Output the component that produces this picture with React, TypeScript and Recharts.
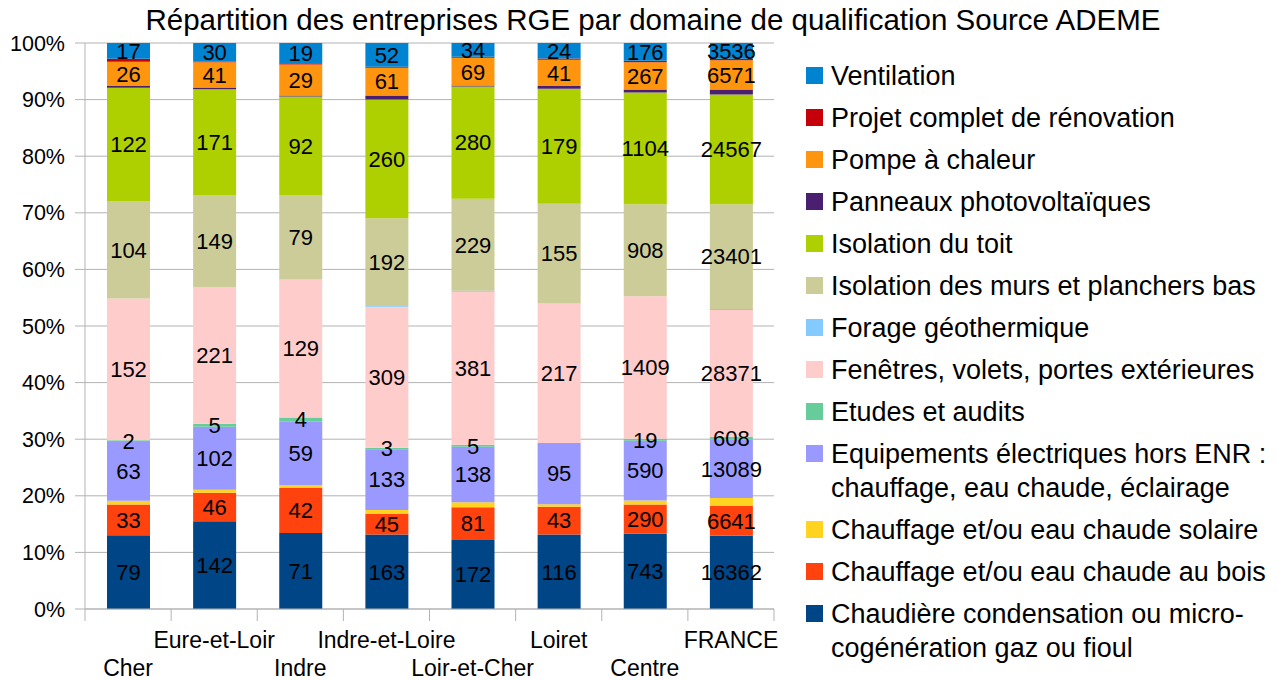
import React from 'react'
import { BarChart, Bar, XAxis, YAxis, CartesianGrid, LabelList } from 'recharts'

const categories = ['Cher', 'Eure-et-Loir', 'Indre', 'Indre-et-Loire', 'Loir-et-Cher', 'Loiret', 'Centre', 'FRANCE']

// series, bottom of the stack first
const chaudiere = [79, 142, 71, 163, 172, 116, 743, 16362]
const bois = [33, 46, 42, 45, 81, 43, 290, 6641]
const solaire = [4, 5, 3, 9, 13, 4, 38, 1800]
const equipements = [63, 102, 59, 133, 138, 95, 590, 13089]
const etudes = [2, 5, 4, 3, 5, 0, 19, 608]
const fenetres = [152, 221, 129, 309, 381, 217, 1409, 28371]
const forage = [0, 0, 0, 2, 2, 0, 0, 200]
const murs = [104, 149, 79, 192, 229, 155, 908, 23401]
const toit = [122, 171, 92, 260, 280, 179, 1104, 24567]
const panneaux = [2, 3, 1, 9, 2, 4, 30, 1100]
const pompe = [26, 41, 29, 61, 69, 41, 267, 6571]
const projet = [3, 1, 1, 2, 3, 2, 15, 300]
const ventilation = [17, 30, 19, 52, 34, 24, 176, 3536]

const yTicks = [0, 0.1, 0.2, 0.3, 0.4, 0.5, 0.6, 0.7, 0.8, 0.9, 1]

const series = [
    { key: 'chaudiere', values: chaudiere, color: '#004586', label: true, name: ['Chaudière condensation ou micro-', 'cogénération gaz ou fioul'] },
    { key: 'bois', values: bois, color: '#ff420e', label: true, name: ['Chauffage et/ou eau chaude au bois'] },
    { key: 'solaire', values: solaire, color: '#ffd320', label: false, name: ['Chauffage et/ou eau chaude solaire'] },
    { key: 'equipements', values: equipements, color: '#9999ff', label: true, name: ['Equipements électriques hors ENR :', 'chauffage, eau chaude, éclairage'] },
    { key: 'etudes', values: etudes, color: '#66cc99', label: true, name: ['Etudes et audits'] },
    { key: 'fenetres', values: fenetres, color: '#ffcccc', label: true, name: ['Fenêtres, volets, portes extérieures'] },
    { key: 'forage', values: forage, color: '#83caff', label: false, name: ['Forage géothermique'] },
    { key: 'murs', values: murs, color: '#cccc99', label: true, name: ['Isolation des murs et planchers bas'] },
    { key: 'toit', values: toit, color: '#aecf00', label: true, name: ['Isolation du toit'] },
    { key: 'panneaux', values: panneaux, color: '#4b1f6f', label: false, name: ['Panneaux photovoltaïques'] },
    { key: 'pompe', values: pompe, color: '#ff950e', label: true, name: ['Pompe à chaleur'] },
    { key: 'projet', values: projet, color: '#c5000b', label: false, name: ['Projet complet de rénovation'] },
    { key: 'ventilation', values: ventilation, color: '#0084d1', label: true, name: ['Ventilation'] },
]

const data = categories.map((name, i) => {
    const row: Record<string, string | number> = { name }
    series.forEach(s => { row[s.key] = s.values[i] })
    return row
})

const FONT = '"Liberation Sans", Arial, sans-serif'
const GRID = '#b3b3b3'
const PLOT_LEFT = 85
const PLOT_RIGHT = 774
const BAND = (PLOT_RIGHT - PLOT_LEFT) / categories.length

const CategoryTick = (props: any) => {
    const { x, y, payload, index } = props
    const lower = index % 2 === 0
    return (
        <g>
            <line x1={x - BAND / 2} y1={y} x2={x - BAND / 2} y2={y + 12} stroke={GRID} />
            {index === categories.length - 1 && (
                <line x1={x + BAND / 2} y1={y} x2={x + BAND / 2} y2={y + 12} stroke={GRID} />
            )}
            <text x={x} y={y + (lower ? 67 : 39)} textAnchor="middle" fontSize={23} fill="#000" fontFamily={FONT}>
                {payload.value}
            </text>
        </g>
    )
}

export default function App() {
    return (
        <div style={{ position: 'absolute', left: 0, top: 0, width: 1283, height: 680, background: '#fff', fontFamily: FONT }}>
            <div style={{ position: 'absolute', left: 0, top: 3, width: 1306, textAlign: 'center', fontSize: 29.5, color: '#000', whiteSpace: 'nowrap' }}>
                Répartition des entreprises RGE par domaine de qualification Source ADEME
            </div>
            <BarChart
                width={1283}
                height={680}
                data={data}
                stackOffset="expand"
                margin={{ top: 43, right: 1283 - PLOT_RIGHT, bottom: 0, left: 0 }}
                style={{ fontFamily: FONT }}
            >
                <CartesianGrid vertical={false} stroke={GRID} />
                <XAxis
                    dataKey="name"
                    height={71}
                    tickLine={false}
                    tickSize={0}
                    tickMargin={0}
                    axisLine={{ stroke: GRID }}
                    interval={0}
                    tick={<CategoryTick />}
                />
                <YAxis
                    width={PLOT_LEFT}
                    domain={[0, 1]}
                    ticks={yTicks}
                    tickFormatter={(v: number) => `${Math.round(v * 100)}%`}
                    tick={{ fontSize: 21.5, fill: '#000' }}
                    tickLine={{ stroke: GRID }}
                    tickSize={10}
                    tickMargin={10}
                    axisLine={{ stroke: GRID }}
                />
                <YAxis yAxisId="border" orientation="right" width={0} tick={false} tickLine={false} axisLine={{ stroke: GRID }} />
                {series.map(s => (
                    <Bar key={s.key} dataKey={s.key} stackId="a" fill={s.color} barSize={43} isAnimationActive={false}>
                        {s.label && (
                            <LabelList dataKey={s.key} position="center" fill="#000" fontSize={22} fontFamily={FONT} />
                        )}
                    </Bar>
                ))}
            </BarChart>
            <div style={{ position: 'absolute', left: 806, top: 59, fontSize: 27, color: '#000', lineHeight: '34px' }}>
                {[...series].reverse().map(s => (
                    <div key={s.key} style={{ display: 'flex', alignItems: 'flex-start', marginBottom: 8 }}>
                        <div style={{ width: 17, height: 17, background: s.color, marginTop: 8, marginRight: 8, flex: 'none' }} />
                        <div style={{ whiteSpace: 'nowrap' }}>
                            {s.name.map((line, i) => <div key={i}>{line}</div>)}
                        </div>
                    </div>
                ))}
            </div>
        </div>
    )
}
